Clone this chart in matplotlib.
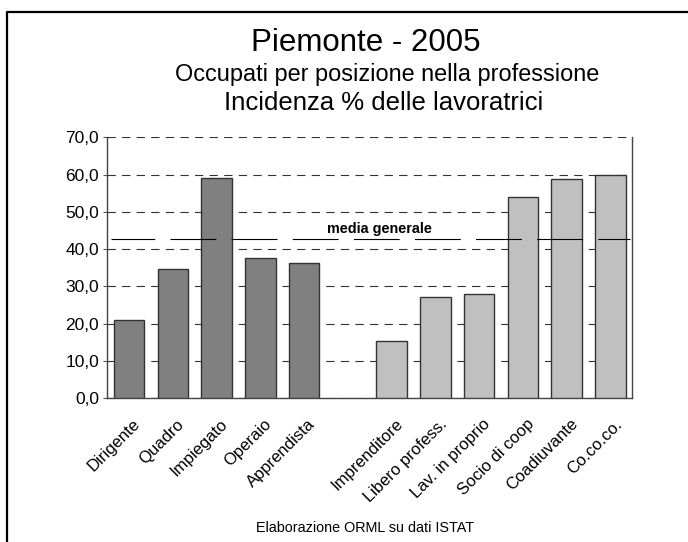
import matplotlib
matplotlib.use("Agg")
import matplotlib.pyplot as plt
from matplotlib.lines import Line2D
from matplotlib.transforms import ScaledTranslation

plt.rcParams['font.family'] = ['Liberation Sans', 'DejaVu Sans']
plt.rcParams['lines.scale_dashes'] = False

categories = ["Dirigente", "Quadro", "Impiegato", "Operaio", "Apprendista",
              "Imprenditore", "Libero profess.", "Lav. in proprio", "Socio di coop",
              "Coadiuvante", "Co.co.co."]
values = [21.1, 34.8, 59.2, 37.6, 36.2, 15.3, 27.2, 28.1, 54.0, 58.8, 59.8]
group = [0, 0, 0, 0, 0, 1, 1, 1, 1, 1, 1]
media_generale = 42.7
yticks = [0, 10, 20, 30, 40, 50, 60, 70]
group_colors = ["#808080", "#C0C0C0"]

# positions: one empty slot between the two groups
positions = []
p = 0
for i, g in enumerate(group):
    if i > 0 and g != group[i - 1]:
        p += 1
    positions.append(p)
    p += 1

fig = plt.figure(figsize=(6.88, 5.42), dpi=100)
ax = fig.add_axes([107.3 / 688, 1 - 398.3 / 542, (632.3 - 107.3) / 688, (398.3 - 137.3) / 542])

ax.bar(positions, values, width=0.7, color=[group_colors[g] for g in group],
       edgecolor="#333333", linewidth=1.0, zorder=3)

ax.set_xlim(-0.5, p - 0.5)
ax.set_ylim(0, 70)
ax.set_yticks(yticks)
ax.set_yticklabels([f"{v:.1f}".replace(".", ",") for v in yticks], fontsize=12.5)
ax.yaxis.grid(True, color="#333333", linestyle=(0, (6, 4.5)), linewidth=0.8, zorder=0)
ax.set_axisbelow(True)

ax.set_xticks(positions)
ax.set_xticklabels([])
ax.tick_params(axis="x", length=0)
ax.tick_params(axis="y", length=3, width=0.8, color="#555555", pad=3)

# category labels, rotated, anchored at their top-right corner below each bar
lab_tr = ax.get_xaxis_transform() + ScaledTranslation(0.035, -0.18, fig.dpi_scale_trans)
for xpos, name in zip(positions, categories):
    ax.text(xpos, 0, name, transform=lab_tr, rotation=45, ha="right", va="top",
            rotation_mode="anchor", fontsize=12, clip_on=False)

ax.spines["top"].set_visible(False)
for s in ["left", "right", "bottom"]:
    ax.spines[s].set_color("#444444")
    ax.spines[s].set_linewidth(1.0)

ax.axhline(media_generale, color="black", linewidth=0.8, linestyle=(1.5, (33, 11)), zorder=4,
           xmin=0.007, xmax=0.995)
ax.text(5.73, media_generale + 2.6, "media generale", ha="center", va="center",
        fontsize=10.4, fontweight="bold", zorder=5)

fig.text(365.5 / 688, 1 - 43 / 542, "Piemonte - 2005", ha="center", va="center", fontsize=22.5)
fig.text(387 / 688, 1 - 75 / 542, "Occupati per posizione nella professione", ha="center", va="center", fontsize=16.9)
fig.text(384 / 688, 1 - 103 / 542, "Incidenza % delle lavoratrici", ha="center", va="center", fontsize=18.5)
fig.text(365 / 688, 1 - 528 / 542, "Elaborazione ORML su dati ISTAT", ha="center", va="center", fontsize=10.4)

fig.add_artist(Line2D([7 / 688, 7 / 688, 1.0], [0, 1 - 11.8 / 542, 1 - 11.8 / 542],
                      transform=fig.transFigure, color="black", linewidth=1.6))

fig.savefig("out.png", dpi=100)
